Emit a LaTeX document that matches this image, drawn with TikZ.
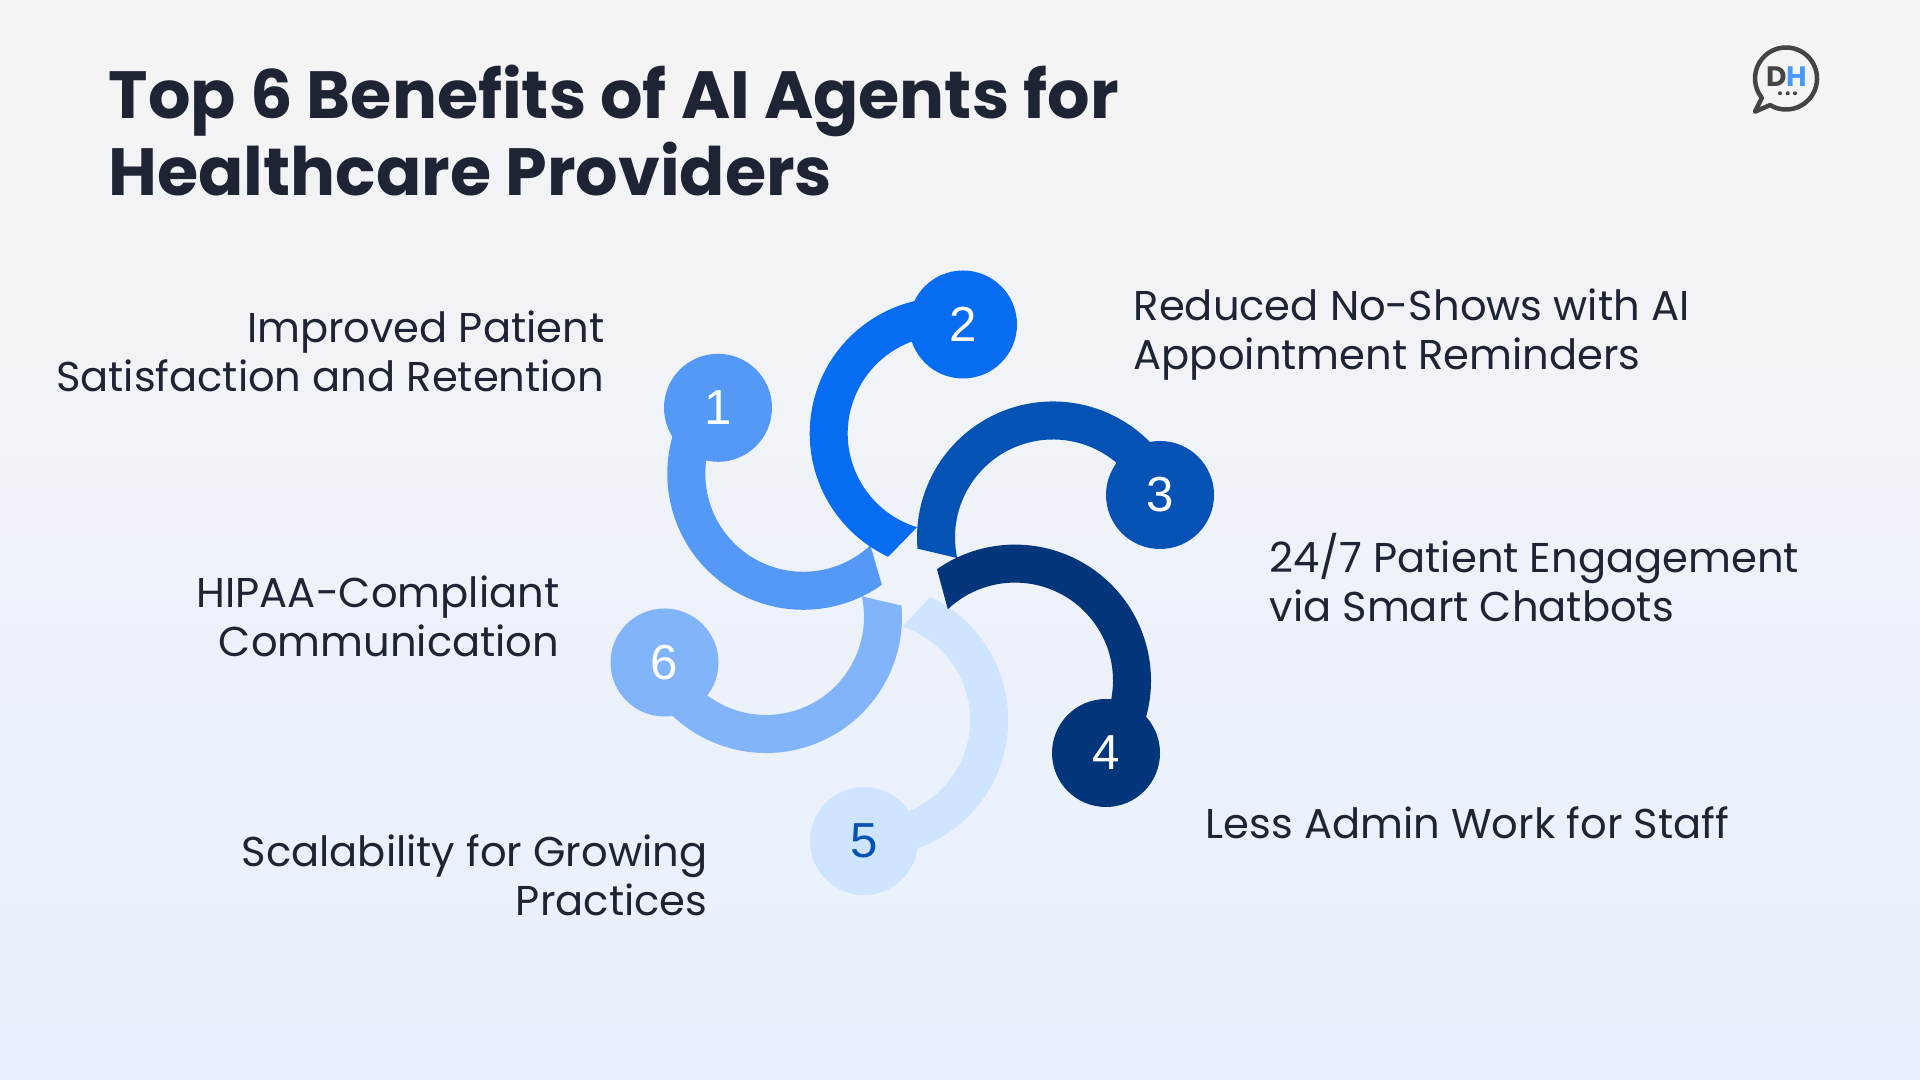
\documentclass[tikz,border=0pt]{standalone}
\usepackage{fontspec}
\setmainfont{Poppins}
\newfontfamily\numfont{Liberation Sans}
\usepackage{color}

\definecolor{bgtop}{HTML}{F5F4F4}
\definecolor{bgbottom}{HTML}{E8F1FE}
\definecolor{inktext}{HTML}{1E2433}
\definecolor{colorone}{HTML}{5599F7}
\definecolor{colortwo}{HTML}{066CF2}
\definecolor{colorthree}{HTML}{0552B5}
\definecolor{colorfour}{HTML}{03357A}
\definecolor{colorfive}{HTML}{CFE4FF}
\definecolor{colorsix}{HTML}{82B4FA}
\definecolor{logoblue}{HTML}{4A97F5}
\definecolor{logodark}{HTML}{444444}

\tikzset{
  badge/.style={circle,minimum size=1.08cm,inner sep=0pt,text=white,font=\numfont\fontsize{14}{16}\selectfont},
  benefit/.style={text=inktext,font=\fontsize{11.85}{13.96}\selectfont,inner sep=0pt}
}

\begin{document}
\begin{tikzpicture}
\useasboundingbox (0,0) rectangle (19.2,10.8);
\shade[top color=bgtop,bottom color=bgbottom] (0,0) rectangle (19.2,10.8);

% Title
\node[anchor=west,align=left,inner sep=0pt,text=inktext,font=\bfseries\fontsize{19}{21.9}\selectfont] (title) at (1.08,9.495) {Top 6 Benefits of AI Agents for\\Healthcare Providers};

% Arc centres
\coordinate (c1) at (8.033,6.062);
\coordinate (c2) at (9.457,6.465);
\coordinate (c3) at (10.53,5.425);
\coordinate (c4) at (10.15,3.994);
\coordinate (c5) at (8.722,3.60);
\coordinate (c6) at (7.66,4.63);

% Arcs
\fill[colorfive] ([shift={(-94:1.36)}]c5) arc[start angle=-94,end angle=64.7,radius=1.36] -- ([shift={(72:0.98)}]c5) arc[start angle=72,end angle=-94,radius=0.98] -- cycle;
\fill[colorsix] ([shift={(204:1.36)}]c6) arc[start angle=204,end angle=364.8,radius=1.36] -- ([shift={(372.2:0.98)}]c6) arc[start angle=372.2,end angle=204,radius=0.98] -- cycle;
\fill[colorone] ([shift={(142:1.36)}]c1) arc[start angle=142,end angle=305.3,radius=1.36] -- ([shift={(313.1:0.98)}]c1) arc[start angle=313.1,end angle=142,radius=0.98] -- cycle;
\fill[colortwo] ([shift={(81:1.36)}]c2) arc[start angle=81,end angle=245,radius=1.36] -- ([shift={(253:0.98)}]c2) arc[start angle=253,end angle=81,radius=0.98] -- cycle;
\fill[colorthree] ([shift={(21.7:1.36)}]c3) arc[start angle=21.7,end angle=184.7,radius=1.36] -- ([shift={(192.1:0.98)}]c3) arc[start angle=192.1,end angle=21.7,radius=0.98] -- cycle;
\fill[colorfour] ([shift={(-38.5:1.36)}]c4) arc[start angle=-38.5,end angle=125,radius=1.36] -- ([shift={(133.3:0.98)}]c4) arc[start angle=133.3,end angle=-38.5,radius=0.98] -- cycle;

% Numbered circles
\node[badge,fill=colorone] (one) at (7.18,6.722) {1};
\node[badge,fill=colortwo] (two) at (9.63,7.555) {2};
\node[badge,fill=colorthree] (three) at (11.60,5.85) {3};
\node[badge,fill=colorfour] (four) at (11.06,3.27) {4};
\node[badge,fill=colorfive,text=colorthree] (five) at (8.64,2.39) {5};
\node[badge,fill=colorsix] (six) at (6.645,4.175) {6};

% Labels
\node[benefit,anchor=east,align=right] (labone) at (6.05,7.29) {Improved Patient\\Satisfaction and Retention};
\node[benefit,anchor=west,align=left] (labtwo) at (11.33,7.45) {Reduced No-Shows with AI\\Appointment Reminders};
\node[benefit,anchor=west,align=left] (labthree) at (12.69,5.02) {24/7 Patient Engagement\\via Smart Chatbots};
\node[benefit,anchor=west] (labfour) at (12.05,2.57) {Less Admin Work for Staff};
\node[benefit,anchor=east,align=right] (labfive) at (7.08,2.05) {Scalability for Growing\\Practices};
\node[benefit,anchor=east,align=right] (labsix) at (5.60,4.64) {HIPAA-Compliant\\Communication};

% Logo
\coordinate (logo) at (17.86,10.015);
\draw[logodark,line width=0.045cm,line join=round] ([shift={(239:0.31)}]logo) arc[start angle=239,end angle=578.7,radius=0.31] -- (17.55,9.683) -- cycle;
\node[inner sep=0pt,font=\bfseries\fontsize{8}{9}\selectfont] (logotext) at (17.865,10.03) {\textcolor{logodark}{D}\textcolor{logoblue}{H}};
\fill[logodark] (17.80,9.867) circle (0.02) (17.877,9.867) circle (0.02) (17.95,9.867) circle (0.02);
\end{tikzpicture}
\end{document}
